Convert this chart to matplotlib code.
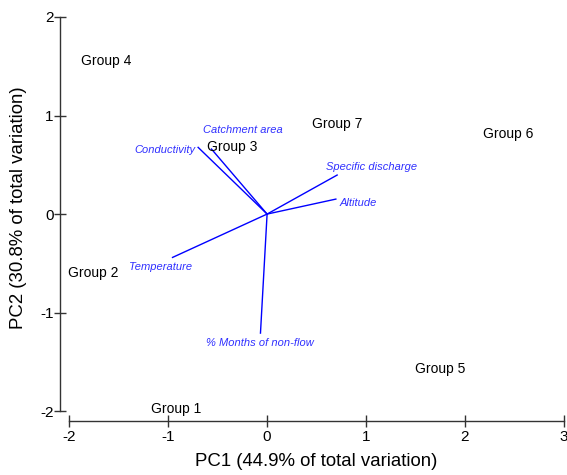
import matplotlib
matplotlib.use("Agg")
import matplotlib.pyplot as plt

plt.rcParams['font.family'] = ['Liberation Sans', 'DejaVu Sans']
plt.rcParams['axes.unicode_minus'] = False

# Group scores (label positions)
groups = ["Group 1", "Group 2", "Group 3", "Group 4", "Group 5", "Group 6", "Group 7"]
group_x = [-0.92, -1.76, -0.35, -1.625, 1.75, 2.44, 0.71]
group_y = [-1.98, -0.60, 0.68, 1.55, -1.575, 0.815, 0.91]

# Variable loadings (arrow ends)
variables = ["Catchment area", "Conductivity", "Specific discharge", "Altitude",
             "Temperature", "% Months of non-flow"]
load_x = [-0.563, -0.698, 0.709, 0.696, -0.957, -0.067]
load_y = [0.660, 0.677, 0.396, 0.152, -0.440, -1.208]
# variable label positions
vlab_x = [-0.243, -1.035, 1.06, 0.921, -1.081, -0.071]
vlab_y = [0.852, 0.649, 0.479, 0.114, -0.536, -1.310]

xticks = [-2, -1, 0, 1, 2, 3]
yticks = [-2, -1, 0, 1, 2]
xlabel = "PC1 (44.9% of total variation)"
ylabel = "PC2 (30.8% of total variation)"

fig = plt.figure(figsize=(5.67, 4.75), dpi=100)
ax = fig.add_axes([60/567, (475-421)/475, 503.5/567, 404/475])
ax.set_xlim(-2.096, 3.0)
ax.set_ylim(-2.10, 2.0)

for gx, gy, g in zip(group_x, group_y, groups):
    ax.text(gx, gy, g, fontsize=10, ha='center', va='center', color='black')

for lx, ly in zip(load_x, load_y):
    ax.plot([0, lx], [0, ly], color='#0000ff', lw=1.0)

for tx, ty, v in zip(vlab_x, vlab_y, variables):
    ax.text(tx, ty, v, fontsize=8, style='italic', ha='center', va='center', color='#3030ff')

for s in ['top', 'right']:
    ax.spines[s].set_visible(False)
ax.spines['left'].set_bounds(-2, 2)
ax.spines['bottom'].set_bounds(-2, 3)
for s in ['left', 'bottom']:
    ax.spines[s].set_color('#333333')
    ax.spines[s].set_linewidth(1.0)

ax.set_xticks(xticks)
ax.set_yticks(yticks)
ax.tick_params(direction='inout', length=9, width=1, color='#333333', labelsize=11)
ax.tick_params(axis='x', pad=2)
ax.tick_params(axis='y', pad=0)

ax.set_xlabel(xlabel, fontsize=13.4)
ax.set_ylabel(ylabel, fontsize=13.4)
ax.xaxis.set_label_coords((316.5 - 60) / 503.5, -0.08)
ax.yaxis.set_label_coords(-0.0655, (421 - 207.5) / 404)

fig.savefig("out.png", dpi=100)
